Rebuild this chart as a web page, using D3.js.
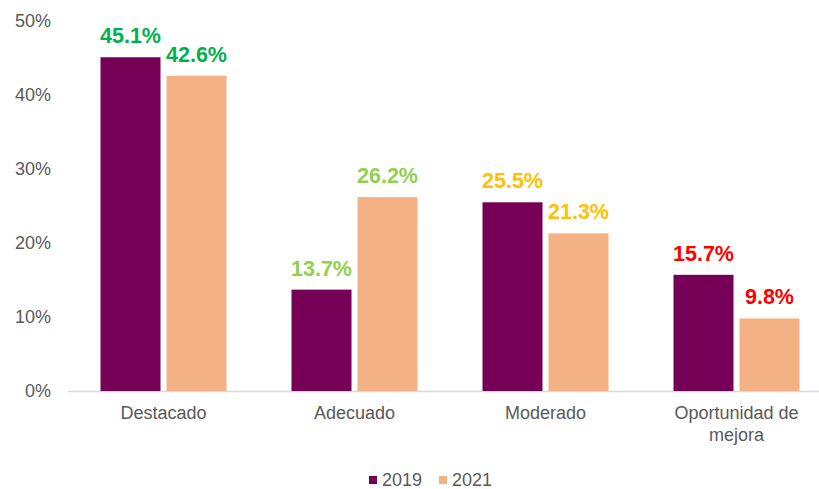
<!DOCTYPE html>
<html>
<head>
<meta charset="utf-8">
<script src="https://cdn.jsdelivr.net/npm/d3@7"></script>
<style>
  body { margin: 0; background: #fff; }
  svg { display: block; font-family: "Liberation Sans", Arial, sans-serif; }
</style>
</head>
<body>
<div id="chart"></div>
<script>
// Data
const categories = ['Destacado', 'Adecuado', 'Moderado', 'Oportunidad de mejora'];
const seriesNames = ['2019', '2021'];
const values2019 = [45.1, 13.7, 25.5, 15.7];
const values2021 = [42.6, 26.2, 21.3, 9.8];
const labelColors = ['#00B050', '#92D050', '#FFC000', '#FF0000'];
const yTicks = [0, 10, 20, 30, 40, 50];

const seriesColors = { '2019': '#750056', '2021': '#F4B183' };

const width = 819, height = 489;
const margin = { top: 21, right: -13, bottom: 98, left: 68 };

const svg = d3.select('#chart').append('svg')
    .attr('width', width)
    .attr('height', height);

const x = d3.scaleBand()
    .domain(categories)
    .range([margin.left, width - margin.right])
    .paddingInner(0)
    .paddingOuter(0);

const barW = 60, barGap = 6;
const xSub = d3.scaleBand()
    .domain(seriesNames)
    .range([0, barW * 2 + barGap])
    .paddingInner(barGap / (barW + barGap));

const y = d3.scaleLinear()
    .domain([0, 50])
    .range([height - margin.bottom, margin.top]);

// y tick labels
svg.append('g')
    .selectAll('text')
    .data(yTicks)
    .enter()
    .append('text')
    .attr('x', 51)
    .attr('y', d => y(d))
    .attr('dy', '0.35em')
    .attr('text-anchor', 'end')
    .attr('fill', '#595959')
    .attr('font-size', '18px')
    .text(d => d + '%');

// baseline
svg.append('line')
    .attr('x1', margin.left)
    .attr('x2', width)
    .attr('y1', y(0) + 0.5)
    .attr('y2', y(0) + 0.5)
    .attr('stroke', '#d9d9d9')
    .attr('stroke-width', 1.5);

const rows = categories.map((c, i) => ({
    cat: c,
    color: labelColors[i],
    bars: [
        { key: '2019', value: values2019[i] },
        { key: '2021', value: values2021[i] }
    ]
}));

const groups = svg.selectAll('.cat')
    .data(rows)
    .enter()
    .append('g')
    .attr('class', 'cat')
    .attr('transform', d => `translate(${x(d.cat) + (x.bandwidth() - (barW * 2 + barGap)) / 2},0)`);

groups.selectAll('rect')
    .data(d => d.bars)
    .enter()
    .append('rect')
    .attr('x', d => xSub(d.key))
    .attr('width', xSub.bandwidth())
    .attr('y', d => y(d.value))
    .attr('height', d => y(0) - y(d.value))
    .attr('fill', d => seriesColors[d.key]);

groups.selectAll('.val')
    .data(d => d.bars.map(b => ({ ...b, color: d.color })))
    .enter()
    .append('text')
    .attr('class', 'val')
    .attr('x', d => xSub(d.key) + xSub.bandwidth() / 2)
    .attr('y', d => y(d.value) - 14)
    .attr('text-anchor', 'middle')
    .attr('fill', d => d.color)
    .attr('font-size', '21.5px')
    .attr('font-weight', 'bold')
    .text(d => d.value.toFixed(1) + '%');

// category labels (wrapped)
const catLines = { 'Oportunidad de mejora': ['Oportunidad de', 'mejora'] };
svg.append('g')
    .selectAll('text')
    .data(categories)
    .enter()
    .append('text')
    .attr('x', d => x(d) + x.bandwidth() / 2)
    .attr('y', 419)
    .attr('text-anchor', 'middle')
    .attr('fill', '#595959')
    .attr('font-size', '18px')
    .each(function(d) {
        const lines = catLines[d] || [d];
        d3.select(this).selectAll('tspan')
            .data(lines)
            .enter()
            .append('tspan')
            .attr('x', x(d) + x.bandwidth() / 2)
            .attr('dy', (l, i) => i === 0 ? 0 : 22)
            .text(l => l);
    });

// legend
const legend = svg.append('g')
    .attr('transform', 'translate(369,486)');

const legendX = [0, 70];
const items = legend.selectAll('g')
    .data(seriesNames)
    .enter()
    .append('g')
    .attr('transform', (d, i) => `translate(${legendX[i]},0)`);

items.append('rect')
    .attr('x', 0)
    .attr('y', -10)
    .attr('width', 8)
    .attr('height', 8)
    .attr('fill', d => seriesColors[d]);

items.append('text')
    .attr('x', 13)
    .attr('y', 0)
    .attr('fill', '#595959')
    .attr('font-size', '18px')
    .text(d => d);
</script>
</body>
</html>
